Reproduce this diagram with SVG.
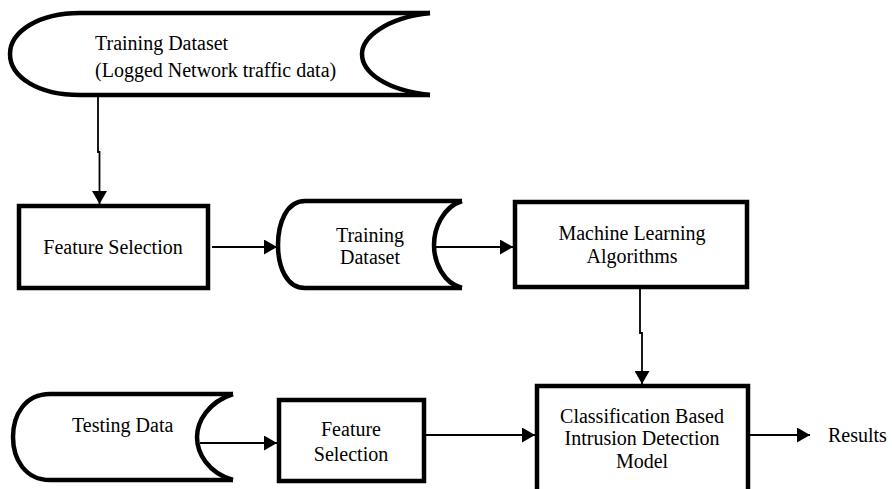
<svg xmlns="http://www.w3.org/2000/svg" width="892" height="489" viewBox="0 0 892 489">
<defs>
<style>
.shape{fill:#fff;stroke:#000;stroke-width:4.5;stroke-linejoin:miter}
.curve{fill:none;stroke:#000;stroke-width:4.5}
.conn{fill:none;stroke:#000;stroke-width:1.8}
text{font-family:"Liberation Serif","Times New Roman",serif;font-size:20px;fill:#000}
.c{text-anchor:middle}
</style>
<marker id="ah" viewBox="0 0 13 15" refX="13" refY="7.5" markerWidth="13" markerHeight="15" markerUnits="userSpaceOnUse" orient="auto">
<path d="M0,0 L13,7.5 L0,15 Z" fill="#000"/>
</marker>
</defs>
<rect width="892" height="489" fill="#fff"/>

<g id="training-dataset-top">
<path class="shape" d="M430,13 L80,13 C38,13 10,32 10,54 C10,77 38,95 80,95 L430,95"/>
<path class="curve" d="M430,13 C385,18 362,38 362,54 C362,72 385,90 430,95"/>
<text x="95" y="50">Training Dataset</text>
<text x="95" y="77">(Logged Network traffic data)</text>
</g>

<g id="feature-selection-1">
<rect class="shape" x="19" y="206" width="189" height="82"/>
<text class="c" x="113" y="254">Feature Selection</text>
</g>

<g id="training-dataset-mid">
<path class="shape" d="M462,201 L305,201 C286,201 278,224 278,245 C278,266 286,288 305,288 L462,288"/>
<path class="curve" d="M462,201 C443,207 434,228 434,245 C434,262 443,283 462,288"/>
<text class="c" x="370" y="242">Training</text>
<text class="c" x="370" y="264">Dataset</text>
</g>

<g id="ml-algorithms">
<rect class="shape" x="515" y="202" width="232" height="85"/>
<text class="c" x="632" y="240">Machine Learning</text>
<text class="c" x="632" y="263">Algorithms</text>
</g>

<g id="testing-data">
<path class="shape" d="M233,394 L50,394 C25,394 13,415 13,437 C13,459 25,480 50,480 L233,480"/>
<path class="curve" d="M233,394 C208,402 197,422 197,437 C197,453 208,473 233,480"/>
<text x="72" y="432">Testing Data</text>
</g>

<g id="feature-selection-2">
<rect class="shape" x="279" y="400" width="145" height="81"/>
<text class="c" x="351" y="436">Feature</text>
<text class="c" x="351" y="461">Selection</text>
</g>

<g id="classification-model">
<rect class="shape" x="537" y="386" width="211" height="115"/>
<text class="c" x="642" y="423">Classification Based</text>
<text class="c" x="642" y="445">Intrusion Detection</text>
<text class="c" x="642" y="468">Model</text>
</g>

<g id="results">
<text x="828" y="442">Results</text>
</g>

<g id="connectors">
<path class="conn" d="M98,96 L98,152 L99.5,152 L99.5,204" marker-end="url(#ah)"/>
<path class="conn" d="M212,247 L277,247" marker-end="url(#ah)"/>
<path class="conn" d="M434,247 L513,247" marker-end="url(#ah)"/>
<path class="conn" d="M640,289 L640,333 L642,333 L642,384" marker-end="url(#ah)"/>
<path class="conn" d="M200,443 L277,443" marker-end="url(#ah)"/>
<path class="conn" d="M426,435 L535,435" marker-end="url(#ah)"/>
<path class="conn" d="M750,435 L810,435" marker-end="url(#ah)"/>
</g>
</svg>
